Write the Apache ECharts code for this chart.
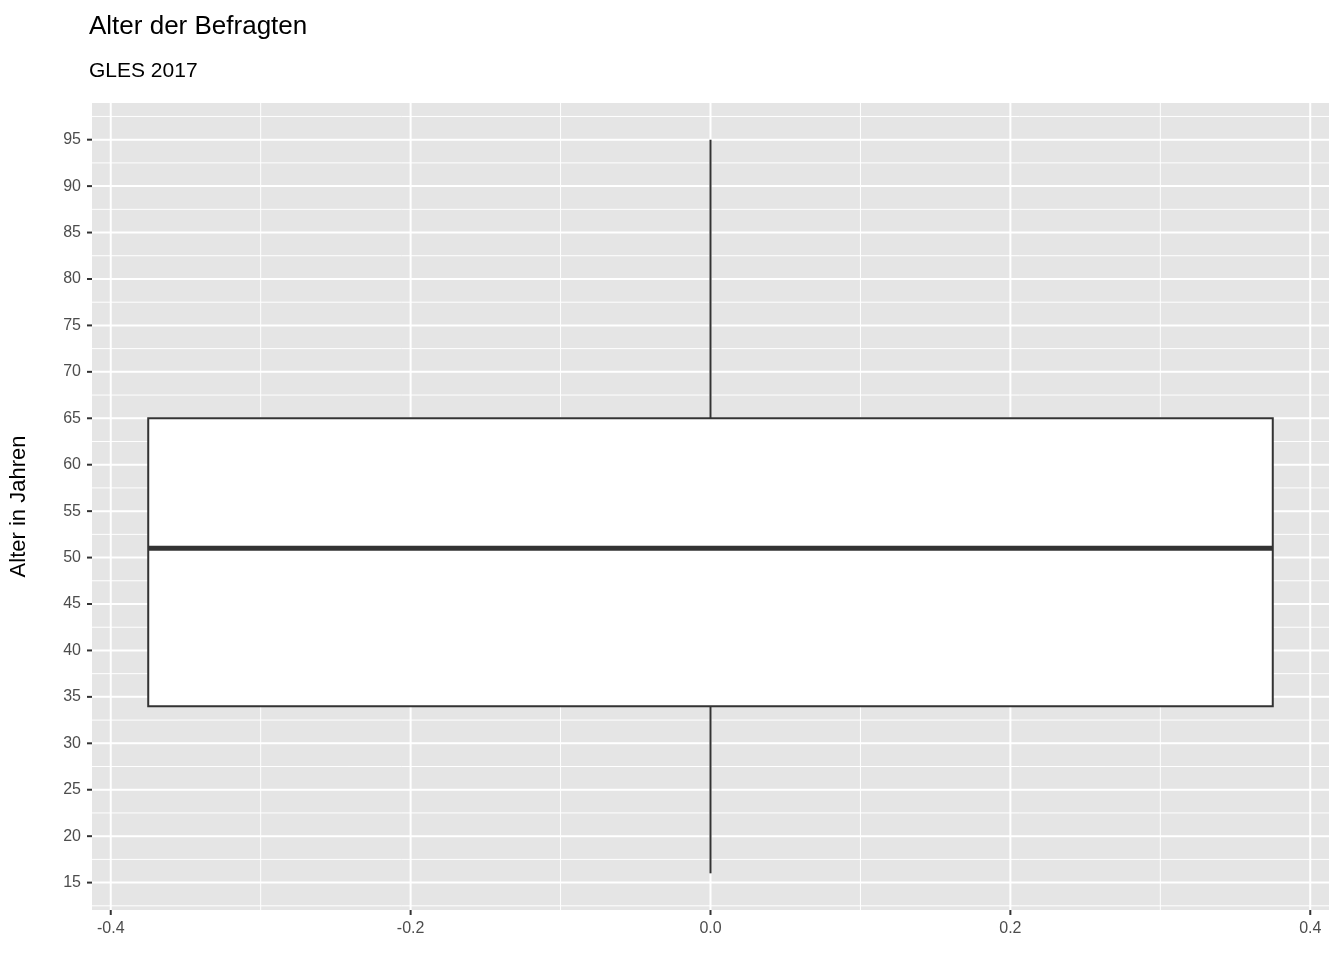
<!DOCTYPE html>
<html><head><meta charset="utf-8">
<script src="https://cdn.jsdelivr.net/npm/echarts@6/dist/echarts.min.js"></script>
<style>html,body{margin:0;padding:0;background:#fff}#c{width:1344px;height:960px}</style>
</head><body><div id="c"></div>
<script>
const boxStats = [16, 34, 51, 65, 95]; // min, q1, median, q3, max
const boxHalfWidth = 0.375;
const yTicks = [15,20,25,30,35,40,45,50,55,60,65,70,75,80,85,90,95];
const yMinor = [12.5,17.5,22.5,27.5,32.5,37.5,42.5,47.5,52.5,57.5,62.5,67.5,72.5,77.5,82.5,87.5,92.5,97.5];
const xTicks = [-0.4,-0.2,0,0.2,0.4];
const xMinor = [-0.3,-0.1,0.1,0.3];
const yMin = 12.05, yMax = 98.95, xMin = -0.4125, xMax = 0.4125;

const gridData = [];
yTicks.forEach(v=>gridData.push(['y',v,1]));
yMinor.forEach(v=>gridData.push(['y',v,0]));
xTicks.forEach(v=>gridData.push(['x',v,1]));
xMinor.forEach(v=>gridData.push(['x',v,0]));

const chart = echarts.init(document.getElementById('c'));
const font = 'Liberation Sans, Arial, sans-serif';
chart.setOption({
  animation:false,
  title:[
    {text:'Alter der Befragten', left:84, top:9, textStyle:{fontFamily:font,fontSize:26,fontWeight:'normal',color:'#000'}},
    {text:'GLES 2017', left:84, top:56, textStyle:{fontFamily:font,fontSize:21,fontWeight:'normal',color:'#000'}}
  ],
  grid:{left:89,right:15,top:103,bottom:50,show:true,backgroundColor:'#e5e5e5',borderWidth:0},
  xAxis:{type:'value',min:xMin,max:xMax,splitLine:{show:false},axisLine:{show:false},axisTick:{show:false},
    axisLabel:{customValues:xTicks,fontFamily:font,fontSize:16,color:'#4d4d4d',margin:11,formatter:v=>v.toFixed(1)}},
  yAxis:{type:'value',min:yMin,max:yMax,splitLine:{show:false},axisLine:{show:false},axisTick:{show:false},
    name:'Alter in Jahren',nameLocation:'middle',nameGap:62,nameRotate:90,
    nameTextStyle:{fontFamily:font,fontSize:22,color:'#000'},
    axisLabel:{customValues:yTicks,fontFamily:font,fontSize:16,color:'#4d4d4d',margin:11}},
  series:[
    {type:'custom',silent:true,data:gridData,clip:false,
     renderItem:(p,api)=>{
       const d=gridData[p.dataIndex];
       const w=d[2]?2:1;
       const tk={stroke:'#333',lineWidth:2};
       if(d[0]==='y'){const a=api.coord([xMin,d[1]]),b=api.coord([xMax,d[1]]);
         const ch=[{type:'line',shape:{x1:a[0],y1:a[1],x2:b[0],y2:b[1]},style:{stroke:'#fff',lineWidth:w}}];
         if(d[2]) ch.push({type:'line',shape:{x1:a[0]-5,y1:a[1],x2:a[0],y2:a[1]},style:tk});
         return {type:'group',children:ch};}
       const a=api.coord([d[1],yMin]),b=api.coord([d[1],yMax]);
       const ch=[{type:'line',shape:{x1:a[0],y1:a[1],x2:b[0],y2:b[1]},style:{stroke:'#fff',lineWidth:w}}];
       if(d[2]) ch.push({type:'line',shape:{x1:a[0],y1:a[1],x2:a[0],y2:a[1]+5},style:tk});
       return {type:'group',children:ch};
     }},
    {type:'custom',data:[boxStats],
     renderItem:(p,api)=>{
       const s=boxStats;
       const lo=api.coord([0,s[0]]),q1=api.coord([-boxHalfWidth,s[1]]),q3=api.coord([boxHalfWidth,s[3]]),
             hi=api.coord([0,s[4]]),mL=api.coord([-boxHalfWidth,s[2]]),mR=api.coord([boxHalfWidth,s[2]]),
             q1c=api.coord([0,s[1]]),q3c=api.coord([0,s[3]]);
       const st={stroke:'#333',lineWidth:2};
       return {type:'group',children:[
         {type:'line',shape:{x1:lo[0],y1:lo[1],x2:q1c[0],y2:q1c[1]},style:st},
         {type:'line',shape:{x1:q3c[0],y1:q3c[1],x2:hi[0],y2:hi[1]},style:st},
         {type:'rect',shape:{x:q1[0],y:q3[1],width:q3[0]-q1[0],height:q1[1]-q3[1]},style:{fill:'#fff',stroke:'#333',lineWidth:2}},
         {type:'line',shape:{x1:mL[0],y1:mL[1],x2:mR[0],y2:mR[1]},style:{stroke:'#333',lineWidth:5}}
       ]};
     }}
  ]
});
</script></body></html>
